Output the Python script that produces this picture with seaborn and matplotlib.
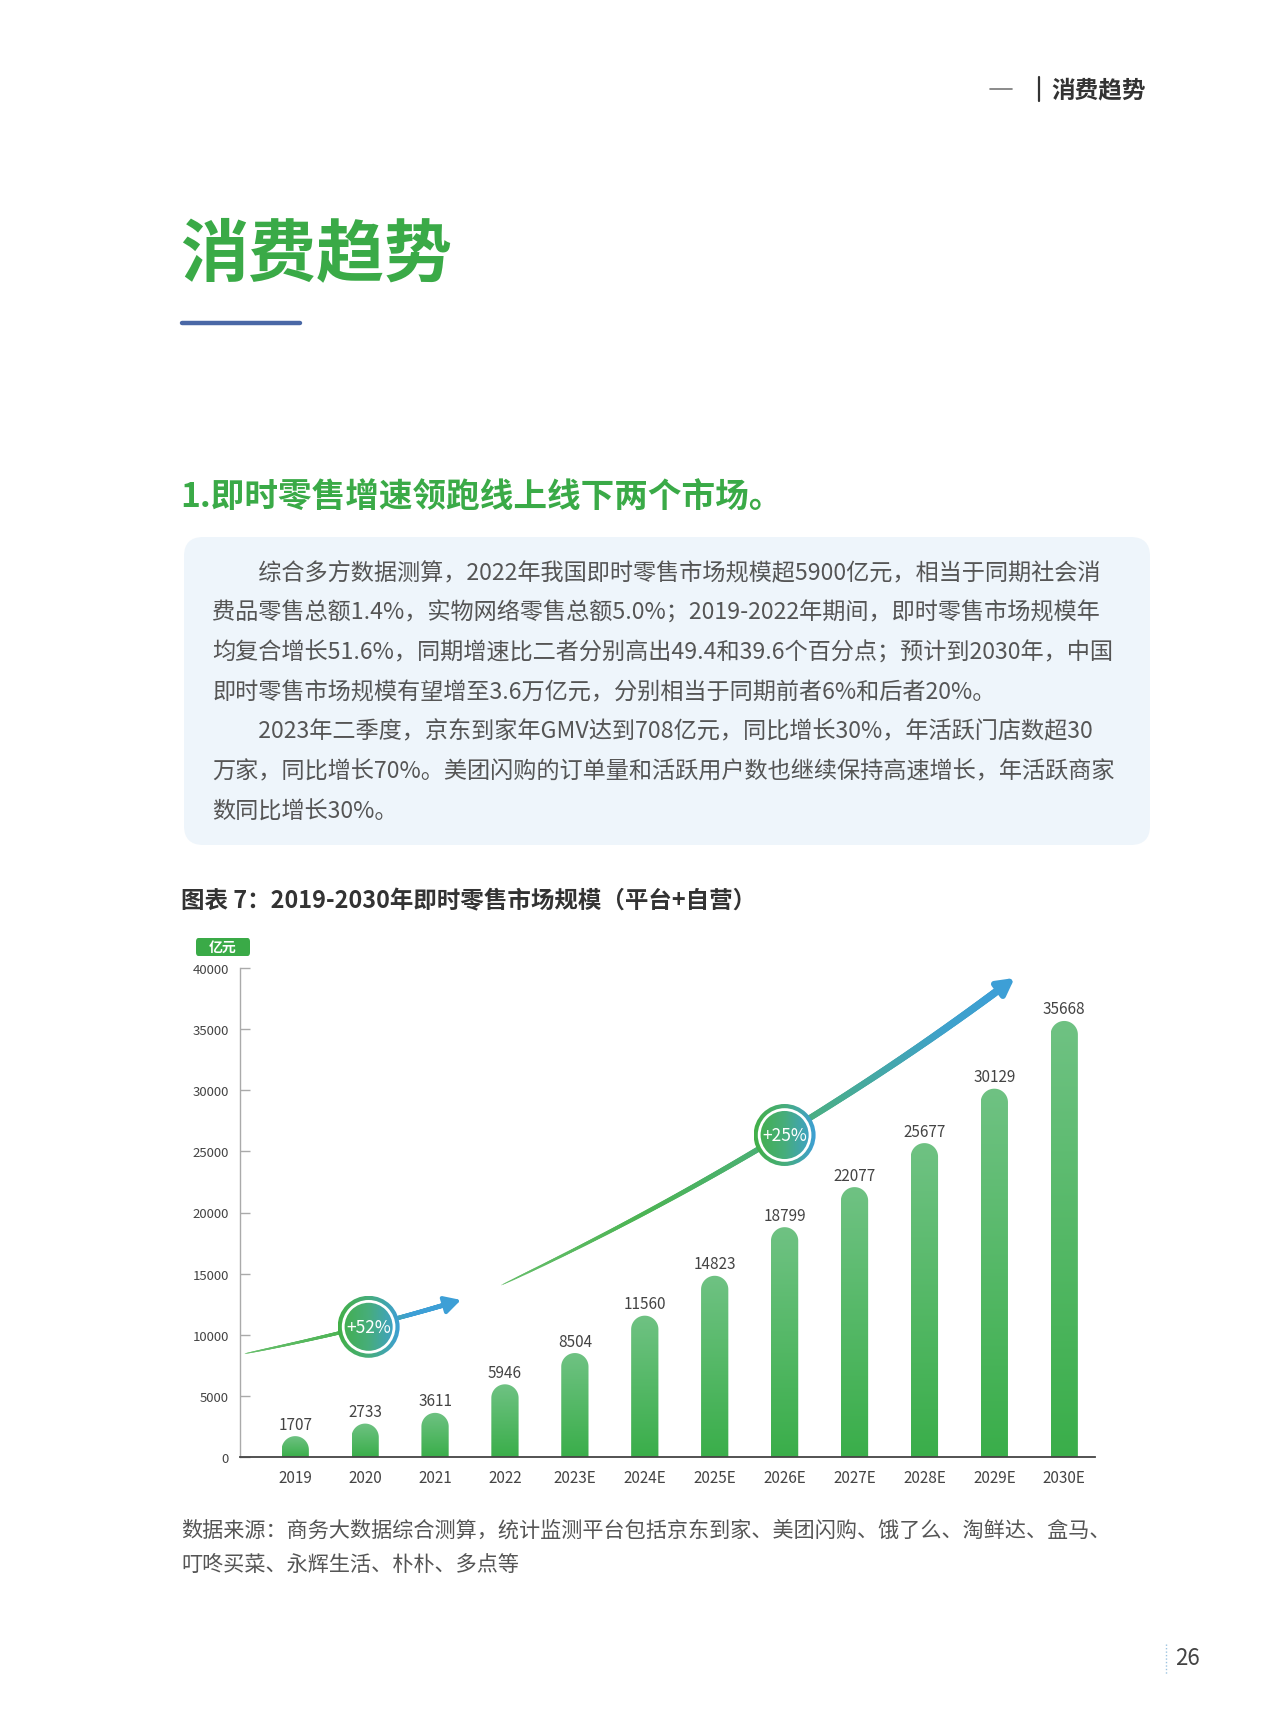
import numpy as np
import matplotlib
matplotlib.use('Agg')
import matplotlib.pyplot as plt
import seaborn as sns
from matplotlib.patches import FancyBboxPatch, Circle, PathPatch
from matplotlib.path import Path
from matplotlib.lines import Line2D
from matplotlib.collections import LineCollection
from matplotlib.colors import LinearSegmentedColormap

# data
years = ['2019', '2020', '2021', '2022', '2023E', '2024E', '2025E',
         '2026E', '2027E', '2028E', '2029E', '2030E']
market_size = [1707, 2733, 3611, 5946, 8504, 11560, 14823,
               18799, 22077, 25677, 30129, 35668]
y_ticks = [0, 5000, 10000, 15000, 20000, 25000, 30000, 35000, 40000]
growth_labels = ['+52%', '+25%']

page_title = '消费趋势'
section_title = '1.即时零售增速领跑线上线下两个市场。'
para_lines = [
    ('　　综合多方数据测算，2022年我国即时零售市场规模超5900亿元，相当于同期社会消'),
    ('费品零售总额1.4%，实物网络零售总额5.0%；2019-2022年期间，即时零售市场规模年'),
    ('均复合增长51.6%，同期增速比二者分别高出49.4和39.6个百分点；预计到2030年，中国'),
    ('即时零售市场规模有望增至3.6万亿元，分别相当于同期前者6%和后者20%。'),
    ('　　2023年二季度，京东到家年GMV达到708亿元，同比增长30%，年活跃门店数超30'),
    ('万家，同比增长70%。美团闪购的订单量和活跃用户数也继续保持高速增长，年活跃商家'),
    ('数同比增长30%。'),
]
chart_title = '图表 7：2019-2030年即时零售市场规模（平台+自营）'
unit_label = '亿元'
source_lines = ['数据来源：商务大数据综合测算，统计监测平台包括京东到家、美团闪购、饿了么、淘鲜达、盒马、',
                '叮咚买菜、永辉生活、朴朴、多点等']
page_no = '26'

GREEN = '#3aaa47'
BLUE = '#3d9fd6'

sns.set_theme(style='white')
plt.rcParams['font.family'] = ['Noto Sans CJK SC', 'DejaVu Sans']

W, H = 1279, 1724
fig = plt.figure(figsize=(W / 100, H / 100), dpi=100)


def fx(px):
    return px / W


def fy(py):
    return 1 - py / H


# ---- page furniture ----
fig.add_artist(Line2D([fx(990), fx(1012)], [fy(90), fy(90)], color='#777', lw=1.2))
fig.add_artist(Line2D([fx(1039), fx(1039)], [fy(78), fy(102)], color='#333', lw=1.6))
fig.text(fx(1051), fy(90), page_title, fontsize=17, color='#333', va='center', fontweight='bold')

fig.text(fx(180), fy(256), page_title, fontsize=49, color=GREEN, va='center', fontweight='bold')
fig.add_artist(Line2D([fx(182), fx(300)], [fy(324), fy(324)], color='#4a68a6', lw=3.2,
                      solid_capstyle='round'))

fig.text(fx(180), fy(497), section_title, fontsize=24.2, color=GREEN, va='center', fontweight='bold')

box = FancyBboxPatch((fx(184), fy(846)), fx(1150) - fx(184), fy(538) - fy(846),
                     boxstyle='round,pad=0,rounding_size=0.015', transform=fig.transFigure,
                     fc='#eef5fb', ec='none', mutation_aspect=W / H)
fig.add_artist(box)
for i, line in enumerate(para_lines):
    fig.text(fx(212), fy(573 + i * 39.8), line, fontsize=16.7, color='#555', va='center')

fig.text(fx(181), fy(901), chart_title, fontsize=16.9, color='#333', va='center', fontweight='bold')

unit_box = FancyBboxPatch((fx(196), fy(957)), fx(250) - fx(196), fy(939) - fy(957),
                          boxstyle='round,pad=0,rounding_size=0.002', transform=fig.transFigure,
                          fc='#3aaa47', ec='none')
fig.add_artist(unit_box)
fig.text(fx(223), fy(948), unit_label, fontsize=10, color='white', ha='center', va='center',
         fontweight='bold')

for i, line in enumerate(source_lines):
    fig.text(fx(181), fy(1531 + i * 34), line, fontsize=15.2, color='#555', va='center')

fig.add_artist(Line2D([fx(1166), fx(1166)], [fy(1645), fy(1675)], color='#9cc3e0', lw=1,
                      ls=(0, (1, 1.5))))
fig.text(fx(1175), fy(1659), page_no, fontsize=16, color='#444', va='center')

# ---- chart ----
ax = fig.add_axes([fx(240), fy(1458), fx(1095) - fx(240), fy(969) - fy(1458)])
ax.patch.set_alpha(0)
sns.barplot(x=years, y=market_size, ax=ax, width=0.39, color='#4cb55c', saturation=1)
ax.set_xlim(-0.79, 11.44)
ax.set_ylim(0, 40000)
ax.set_yticks(y_ticks)
ax.set_yticklabels([str(v) for v in y_ticks])
ax.tick_params(axis='y', direction='in', length=7, width=1, color='#aaa', labelsize=9.5,
               labelcolor='#444', pad=8, left=True)
ax.tick_params(axis='x', length=0, labelsize=11, labelcolor='#444', pad=9)
for s in ['top', 'right']:
    ax.spines[s].set_visible(False)
ax.spines['left'].set_color('#aaa')
ax.spines['left'].set_linewidth(1)
ax.spines['bottom'].set_color('#444')
ax.spines['bottom'].set_linewidth(1.3)
ax.grid(False)
ax.set_xlabel('')
ax.set_ylabel('')

bar_cmap = LinearSegmentedColormap.from_list('bar', ['#3aae4a', '#6fc283'])
grad = np.linspace(0, 1, 256).reshape(-1, 1)

fig.canvas.draw()
bb = ax.get_window_extent()
px_per_x = bb.width / (ax.get_xlim()[1] - ax.get_xlim()[0])
px_per_y = bb.height / (ax.get_ylim()[1] - ax.get_ylim()[0])

for patch, val in zip(list(ax.patches), market_size):
    x0 = patch.get_x()
    w = patch.get_width()
    h = patch.get_height()
    patch.set_visible(False)
    rx = w / 2
    ry = rx * px_per_x / px_per_y
    xc = x0 + rx
    theta = np.linspace(np.pi, 0, 40)
    verts = [(x0, 0), (x0, h - ry)]
    verts += list(zip(xc + rx * np.cos(theta), h - ry + ry * np.sin(theta)))
    verts += [(x0 + w, 0), (x0, 0)]
    codes = [Path.MOVETO] + [Path.LINETO] * (len(verts) - 2) + [Path.CLOSEPOLY]
    shape = PathPatch(Path(verts, codes), fc='none', ec='none', transform=ax.transData)
    ax.add_patch(shape)
    im = ax.imshow(grad, extent=(x0, x0 + w, 0, h), aspect='auto', cmap=bar_cmap,
                   origin='lower', zorder=2)
    im.set_clip_path(shape)
    ax.annotate(str(val), (xc, h), xytext=(0, 2.5), textcoords='offset points',
                ha='center', va='bottom', fontsize=11, color='#444')

ax.set_xlim(-0.79, 11.44)
ax.set_ylim(0, 40000)

arrow_cmap = LinearSegmentedColormap.from_list('arr', ['#6cc070', '#4cb454', '#4aae86', BLUE])


def growth_arrow(p0, c, p2, w0, w1, cstops, cvals_at):
    t = np.linspace(0, 1, 300)
    pts = np.array([(1 - t) ** 2 * p0[k] + 2 * (1 - t) * t * c[k] + t ** 2 * p2[k] for k in range(2)]).T
    segs = np.stack([pts[:-1], pts[1:]], axis=1)
    tm = t[:-1]
    cvals = np.interp(tm, cstops, cvals_at)
    widths = w0 + (w1 - w0) * np.sqrt(tm)
    n = len(segs) - 12
    lc = LineCollection(segs[:n], colors=arrow_cmap(cvals[:n]), linewidths=widths[:n],
                        capstyle='round', zorder=3)
    ax.add_collection(lc)
    ax.annotate('', xy=tuple(pts[-1]), xytext=tuple(pts[-20]),
                arrowprops=dict(arrowstyle='-|>,head_length=0.7,head_width=0.38', color=BLUE,
                                lw=w1 * 0.8, shrinkA=0, shrinkB=0, mutation_scale=14), zorder=3)


growth_arrow((-0.72, 8455), (1.0, 10450), (2.37, 12846), 0.3, 3.6,
             [0, 0.43, 0.55, 0.75, 1], [0.05, 0.33, 0.6, 1, 1])
growth_arrow((2.95, 14065), (7.0, 25000), (10.29, 39187), 0.3, 5.6,
             [0, 0.25, 0.55, 0.85, 1], [0.05, 0.33, 0.62, 0.95, 1])


def badge(x, y, label):
    cx, cy = ax.transData.transform((x, y))
    r = 31
    cax = fig.add_axes([(cx - r) / W, (cy - r) / H, 2 * r / W, 2 * r / H])
    cax.set_xlim(-1, 1)
    cax.set_ylim(-1, 1)
    cax.axis('off')
    ring_cmap = LinearSegmentedColormap.from_list('ring', ['#42b047', '#47ad7c', '#3d9fd6'])
    hgrad = np.linspace(0, 1, 256).reshape(1, -1)
    im = cax.imshow(hgrad, extent=(-1, 1, -1, 1), aspect='auto', cmap=ring_cmap)
    circ = Circle((0, 0), 1, transform=cax.transData)
    im.set_clip_path(circ)
    cax.add_patch(Circle((0, 0), 0.82, fill=False, ec='white', lw=2))
    cax.text(0, 0, label, ha='center', va='center', color='white', fontsize=12.5)


badge(1.05, 10650, growth_labels[0])
badge(7.0, 26340, growth_labels[1])

fig.savefig('out.png', dpi=100)
